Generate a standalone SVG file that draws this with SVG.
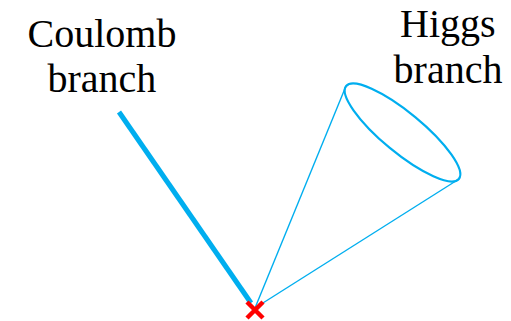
<svg xmlns="http://www.w3.org/2000/svg" width="511" height="321" viewBox="0 0 511 321">
<rect width="511" height="321" fill="#fff"/>
<g id="coulomb-label">
<text x="27.5" y="47" font-size="40" font-family="Liberation Serif">Coulomb</text>
<text x="47.5" y="92" font-size="40" font-family="Liberation Serif">branch</text>
</g>
<g id="higgs-label">
<text x="400" y="37" font-size="40" font-family="Liberation Serif">Higgs</text>
<text x="393.6" y="83" font-size="40" font-family="Liberation Serif">branch</text>
</g>
<g id="connectors" stroke="#00AEEF" fill="none">
<line x1="119" y1="112" x2="251" y2="303" stroke-width="5"/>
<line x1="255" y1="308" x2="346" y2="86" stroke-width="1.4"/>
<line x1="255" y1="308" x2="459" y2="179" stroke-width="1.4"/>
</g>
<g id="higgs-cone"><ellipse cx="402.5" cy="132.5" rx="73" ry="20" transform="rotate(39.5 402.5 132.5)" stroke="#00AEEF" fill="none" stroke-width="2.2"/></g>
<g id="origin"><path d="M247,302 L263,318 M263,302 L247,318" stroke="#FF0000" stroke-width="4.5" fill="none"/></g>
</svg>
